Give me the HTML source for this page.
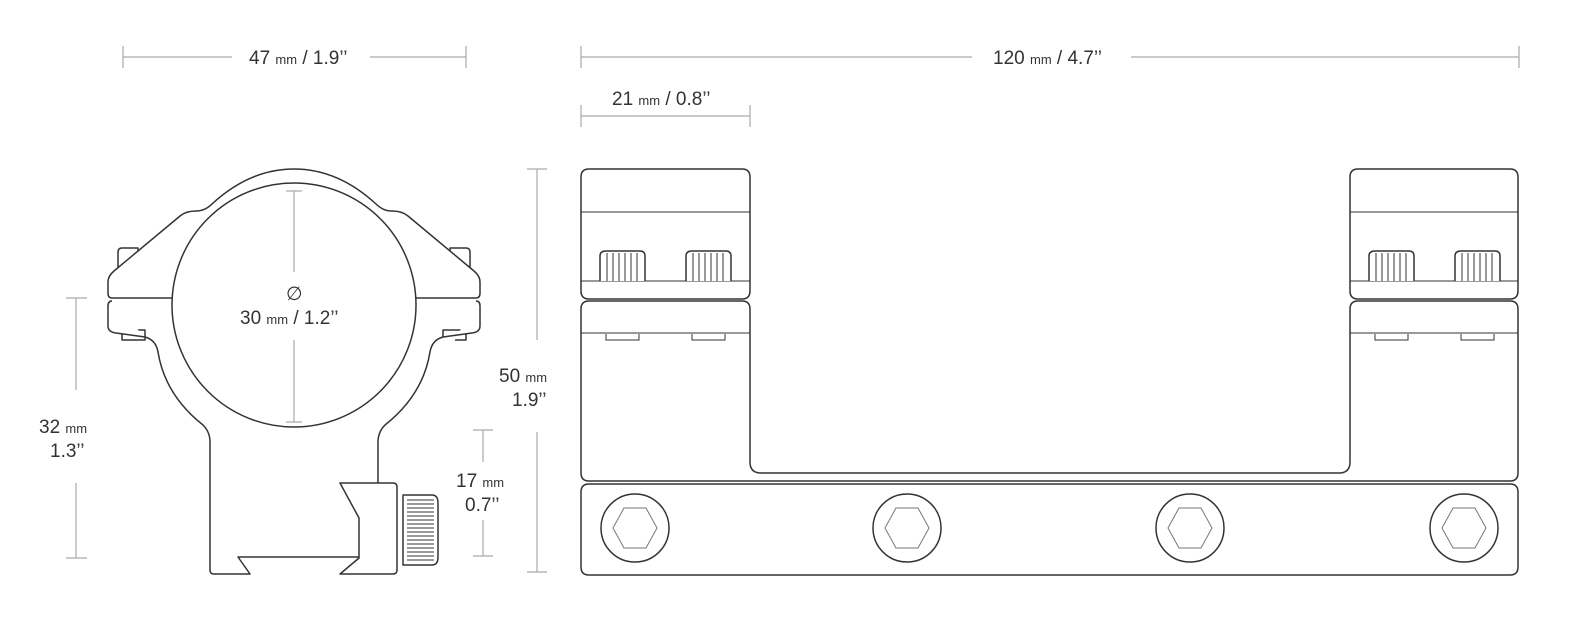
<!DOCTYPE html>
<html><head><style>
html,body{margin:0;padding:0;background:#fff;overflow:hidden;width:1575px;height:640px;}
svg{display:block;}
text{font-family:"Liberation Sans",sans-serif;fill:#333;font-size:19px;}
.s{font-size:13px;}
.d{stroke:#aaa;stroke-width:1.2;fill:none;}
.o{stroke:#333;stroke-width:1.5;fill:#fff;stroke-linejoin:round;}
.t{stroke:#333;stroke-width:1;fill:none;}
.h{stroke:#777;stroke-width:1;fill:none;}
</style></head><body>
<svg width="1575" height="640" viewBox="0 0 1575 640" xmlns="http://www.w3.org/2000/svg">
<path class="d" d="M123 46V68M123 57H232M370 57H466M466 46V68"/>
<text x="249" y="64">47 <tspan class="s">mm</tspan> / 1.9’’</text>
<path class="d" d="M581 46V68M581 57H972M1131 57H1519M1519 46V68"/>
<text x="993" y="64">120 <tspan class="s">mm</tspan> / 4.7’’</text>
<path class="d" d="M581 105V127M581 116H750M750 105V127"/>
<text x="612" y="105">21 <tspan class="s">mm</tspan> / 0.8’’</text>
<path class="d" d="M66 298H87M76 298V390M76 483V558M66 558H87"/>
<text x="39" y="433">32 <tspan class="s">mm</tspan></text>
<text x="50" y="457">1.3’’</text>
<path class="d" d="M473 430H493M483 430V462M483 520V556M473 556H493"/>
<text x="456" y="487">17 <tspan class="s">mm</tspan></text>
<text x="465" y="511">0.7’’</text>
<path class="d" d="M527 169H547M537 169V340M537 432V572M527 572H547"/>
<text x="499" y="382">50 <tspan class="s">mm</tspan></text>
<text x="512" y="406">1.9’’</text>

<path class="o" d="M118 272V252Q118 248 122 248H138V272Z"/>
<path class="o" d="M470 272V252Q470 248 466 248H450V272Z"/>
<path class="o" d="M122 330V340H145V330Z"/>
<path class="o" d="M466 330V340H443V330Z"/>
<path class="o" d="M112 298Q108 298 108 293V282Q108 276 114 271L180 216Q186 211 196 211Q205 211 212 204Q250 169 294 169Q338 169 376 204Q383 211 392 211Q402 211 408 216L474 271Q480 276 480 282V293Q480 298 476 298Z"/>
<path class="o" d="M112 301Q108 301 108 306V326Q108 332 116 333L145 337Q156 340 158 352Q165 395 203 425Q210 432 210 442V570Q210 574 214 574H250L238 557H359V574"/>
<path class="o" d="M476 301Q480 301 480 306V326Q480 332 472 333L443 337Q432 340 430 352Q423 395 385 425Q378 432 378 442V483"/>
<path class="o" d="M340 483H393Q397 483 397 487V570Q397 574 393 574H340L359 558V518Z"/>
<path class="o" d="M403 495H432Q438 495 438 503V557Q438 565 432 565H403Z"/>
<path class="t" d="M407 500H434M407 504H434M407 508H434M407 512H434M407 516H434M407 520H434M407 524H434M407 528H434M407 532H434M407 536H434M407 540H434M407 544H434M407 548H434M407 552H434M407 556H434M407 560H434"/>
<circle class="o" cx="294" cy="305" r="122"/>
<path class="d" d="M286 191H302M294 191V272M294 340V422M286 422H302"/>
<text x="286" y="300">∅</text>
<text x="240" y="324">30 <tspan class="s">mm</tspan> / 1.2’’</text>

<path class="o" d="M589 169H742Q750 169 750 177V291Q750 299 742 299H589Q581 299 581 291V177Q581 169 589 169Z"/>
<path class="t" d="M581 212H750M581 281H750"/>
<path class="o" d="M600 281V256Q600 251 606 251H640Q645 251 645 256V281"/>
<path class="t" d="M607 253V281M613 253V281M619 253V281M625 253V281M631 253V281M637 253V281"/>
<path class="o" d="M686 281V256Q686 251 692 251H726Q731 251 731 256V281"/>
<path class="t" d="M693 253V281M699 253V281M705 253V281M711 253V281M717 253V281M723 253V281"/>
<path class="o" d="M1358 169H1510Q1518 169 1518 177V291Q1518 299 1510 299H1358Q1350 299 1350 291V177Q1350 169 1358 169Z"/>
<path class="t" d="M1350 212H1518M1350 281H1518"/>
<path class="o" d="M1369 281V256Q1369 251 1375 251H1409Q1414 251 1414 256V281"/>
<path class="t" d="M1376 253V281M1382 253V281M1388 253V281M1394 253V281M1400 253V281M1406 253V281"/>
<path class="o" d="M1455 281V256Q1455 251 1461 251H1495Q1500 251 1500 256V281"/>
<path class="t" d="M1462 253V281M1468 253V281M1474 253V281M1480 253V281M1486 253V281M1492 253V281"/>
<path class="o" d="M589 301H742Q750 301 750 309V462Q750 473 761 473H1339Q1350 473 1350 462V309Q1350 301 1358 301H1510Q1518 301 1518 309V473Q1518 481 1510 481H589Q581 481 581 473V309Q581 301 589 301Z"/>
<path class="t" d="M581 333H750M1350 333H1518M606 334V340H639V334M692 334V340H725V334M1375 334V340H1408V334M1461 334V340H1494V334"/>
<path class="o" d="M589 484H1510Q1518 484 1518 492V567Q1518 575 1510 575H589Q581 575 581 567V492Q581 484 589 484Z"/>
<circle class="o" cx="635" cy="528" r="34"/><path class="h" d="M624 508H646L657 528L646 548H624L613 528Z"/>
<circle class="o" cx="907" cy="528" r="34"/><path class="h" d="M896 508H918L929 528L918 548H896L885 528Z"/>
<circle class="o" cx="1190" cy="528" r="34"/><path class="h" d="M1179 508H1201L1212 528L1201 548H1179L1168 528Z"/>
<circle class="o" cx="1464" cy="528" r="34"/><path class="h" d="M1453 508H1475L1486 528L1475 548H1453L1442 528Z"/>
</svg>
</body></html>
